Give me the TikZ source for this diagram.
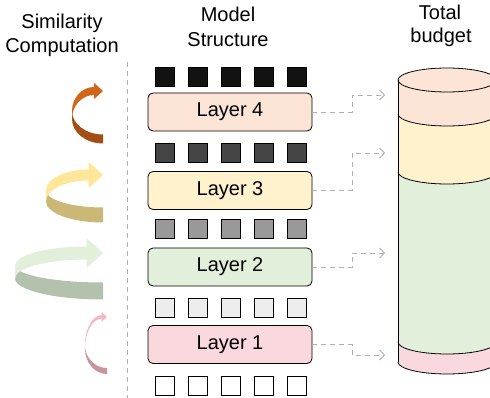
\documentclass[tikz,border=0pt]{standalone}
\usepackage{fontspec}
\setmainfont{Liberation Sans}
\usetikzlibrary{arrows.meta}
\definecolor{cL4}{HTML}{FCE4D6}
\definecolor{cL3}{HTML}{FFF2CC}
\definecolor{cL2}{HTML}{E2EFDA}
\definecolor{cL1}{HTML}{F9D8DE}
\definecolor{aL1}{HTML}{D0661A}\definecolor{aD1}{HTML}{A24E14}
\definecolor{aL2}{HTML}{FFE699}\definecolor{aD2}{HTML}{CBB776}
\definecolor{aL3}{HTML}{E2EFDA}\definecolor{aD3}{HTML}{B3C2AD}
\definecolor{aL0}{HTML}{F4B8C3}\definecolor{aD0}{HTML}{C8959D}
\definecolor{dashgray}{HTML}{B0B0B0}
% #1 idx, #2 L, #3 R, #4 Yt, #5 Ym, #6 Yb, #7 t, #8 tb, #9 h
\newcommand{\spiralarrow}[9]{%
  \fill[aD#1] ({#2},{#5-#7/2})
    .. controls ({#2},{#5-#7/2+0.552*((#6-#8/2)-(#5-#7/2))}) and ({#3-0.552*(#3-#2)},{#6-#8/2}) .. ({#3},{#6-#8/2})
    -- ({#3},{#6+#8/2})
    .. controls ({#3-0.552*(#3-#2)},{#6+#8/2}) and ({#2},{#5+#7/2+0.552*((#6+#8/2)-(#5+#7/2))}) .. ({#2},{#5+#7/2})
    -- cycle;
  \fill[aL#1] ({#2},{#5-#7/2})
    .. controls ({#2},{#5-#7/2-0.552*((#5-#7/2)-(#4-#7/2))}) and ({#3-1.1*#9-0.552*(#3-1.1*#9-#2)},{#4-#7/2}) .. ({#3-1.1*#9},{#4-#7/2})
    -- ({#3-1.1*#9},{#4-#9}) -- ({#3},{#4}) -- ({#3-1.1*#9},{#4+#9}) -- ({#3-1.1*#9},{#4+#7/2})
    .. controls ({#3-1.1*#9-0.552*(#3-1.1*#9-#2)},{#4+#7/2}) and ({#2},{#5+#7/2-0.552*((#5+#7/2)-(#4+#7/2))}) .. ({#2},{#5+#7/2})
    -- cycle;
}
\begin{document}
\begin{tikzpicture}[x=1pt,y=-1pt,
  layerbox/.style={draw=black, line width=0.8pt, rounded corners=5pt, minimum width=164pt, minimum height=38pt, inner sep=0pt, font=\fontsize{20}{24}\selectfont},
  sq/.style={draw=black, line width=0.8pt, minimum size=19pt, inner sep=0pt},
  title/.style={anchor=base, inner sep=0pt, font=\fontsize{20}{24}\selectfont},
  dashline/.style={draw=dashgray, line width=0.8pt, dash pattern=on 5pt off 4pt},
  budgetarrow/.style={dashline, -{Straight Barb[length=5pt,width=10pt]}},
  cyl/.style={draw=black, line width=0.8pt}]
\useasboundingbox (0,0) rectangle (490,398);
\clip (0,0) rectangle (490,398);
\fill[white] (0,0) rectangle (490,398);

% titles
\node[title] (t1a) at (62,29) {Similarity};
\node[title] (t1b) at (62,53) {Computation};
\node[title] (t2a) at (228,22) {Model};
\node[title] (t2b) at (228,47) {Structure};
\node[title] (t3a) at (440,20) {Total};
\node[title] (t3b) at (441,43) {budget};

% separator
\coordinate (sepTop) at (127,62);
\coordinate (sepBot) at (127,398);
\draw[dashline] (sepTop) -- (sepBot);

% spiral arrows
\spiralarrow{1}{72}{103}{91}{115}{139}{8}{9}{8}
\spiralarrow{2}{46}{103}{175}{196}{215}{11}{15}{13}
\spiralarrow{3}{15}{103}{253}{272}{291}{13}{17}{15}
\spiralarrow{0}{85}{107}{317}{347}{371}{3.5}{6}{5}

% squares
\foreach \r/\yy/\col in {1/77/black!93, 2/152.5/black!73, 3/228.5/black!40, 4/308/black!7, 5/386/white}{
  \foreach \k in {0,...,4}{
    \node[sq, fill=\col] (s\r-\k) at ({164.5+33*\k},\yy) {};
  }
}

% layers
\node[layerbox, fill=cL4] (L4) at (230,112) {Layer 4};
\node[layerbox, fill=cL3] (L3) at (230,190.5) {Layer 3};
\node[layerbox, fill=cL2] (L2) at (230,267) {Layer 2};
\node[layerbox, fill=cL1] (L1) at (230,344.5) {Layer 1};

% cylinder
\fill[cL4] (398,80) arc[start angle=180, end angle=0, x radius=49, y radius=12] -- (496,114) arc[start angle=0, end angle=180, x radius=49, y radius=12] -- cycle;
\fill[cL4] (447,80) ellipse[x radius=49, y radius=12];
\fill[cL3] (398,114) arc[start angle=180, end angle=0, x radius=49, y radius=12] -- (496,172) arc[start angle=0, end angle=180, x radius=49, y radius=12] -- cycle;
\fill[cL2] (398,172) arc[start angle=180, end angle=0, x radius=49, y radius=12] -- (496,342) arc[start angle=0, end angle=180, x radius=49, y radius=12] -- cycle;
\fill[cL1] (398,342) arc[start angle=180, end angle=0, x radius=49, y radius=12] -- (496,362) arc[start angle=0, end angle=180, x radius=49, y radius=12] -- cycle;
\draw[cyl] (447,80) ellipse[x radius=49, y radius=12];
\foreach \cy in {114,172,342,362}{
  \draw[cyl] (398,\cy) arc[start angle=180, end angle=0, x radius=49, y radius=12];
}
\draw[cyl] (398,80) -- (398,362);
\draw[cyl] (496,80) -- (496,362);

% budget arrows
\coordinate (b4) at (385,95);
\coordinate (b3) at (385,153);
\coordinate (b2) at (385,253);
\coordinate (b1) at (385,355);
\draw[budgetarrow] (L4.east) -- ++(40,0) |- (b4);
\draw[budgetarrow] (L3.east) -- ++(40,0) |- (b3);
\draw[budgetarrow] (L2.east) -- ++(40,0) |- (b2);
\draw[budgetarrow] (L1.east) -- ++(40,0) |- (b1);
\end{tikzpicture}
\end{document}
